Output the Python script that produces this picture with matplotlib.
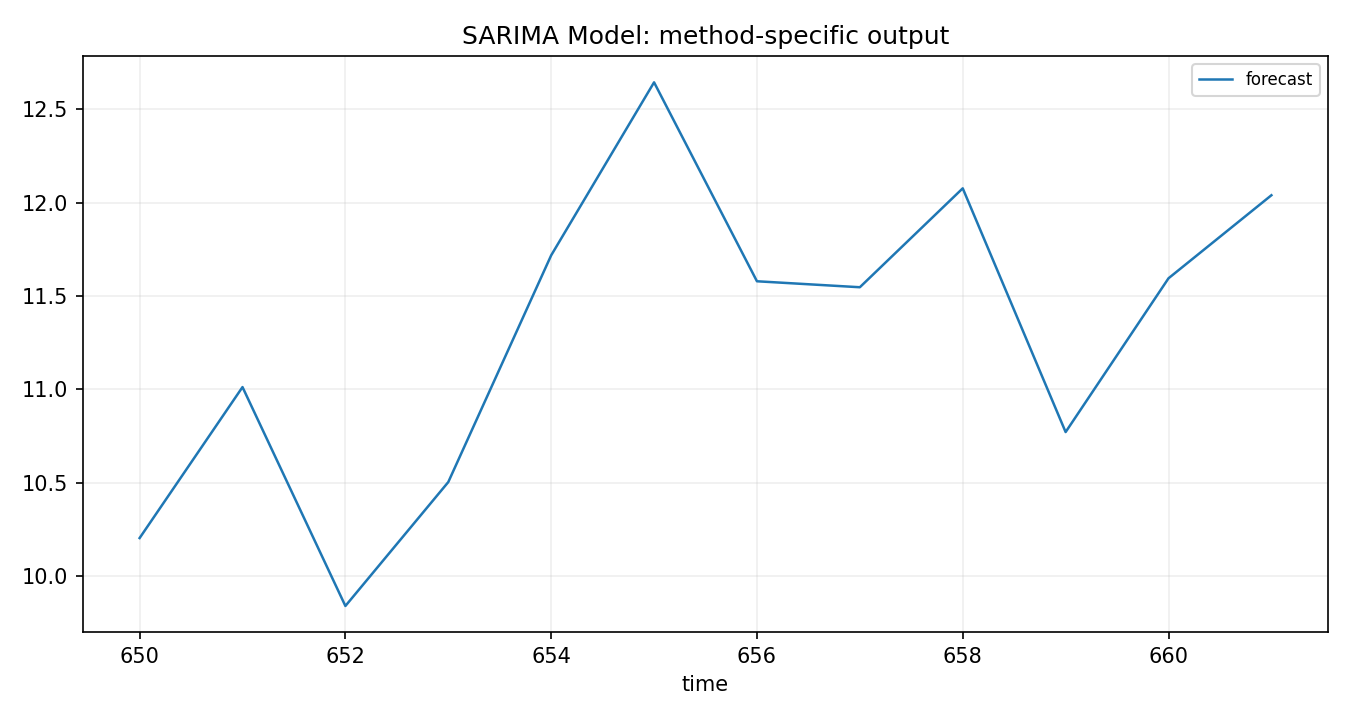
import matplotlib
matplotlib.use("Agg")
import matplotlib.pyplot as plt

time = [650, 651, 652, 653, 654, 655, 656, 657, 658, 659, 660, 661]
forecast = [10.203, 11.012, 9.839, 10.503, 11.718, 12.645,
            11.579, 11.547, 12.077, 10.771, 11.595, 12.040]

fig, ax = plt.subplots(figsize=(9, 4.8), dpi=150)
ax.plot(time, forecast, label='forecast', color='#1f77b4', linewidth=1.2)
ax.set_title('SARIMA Model: method-specific output')
ax.set_xlabel('time')
ax.grid(True, alpha=0.2)
ax.legend(loc='upper right', fontsize=8)
fig.subplots_adjust(left=0.0615, right=0.9837, top=0.922, bottom=0.122)
fig.savefig('out.png', dpi=150)
